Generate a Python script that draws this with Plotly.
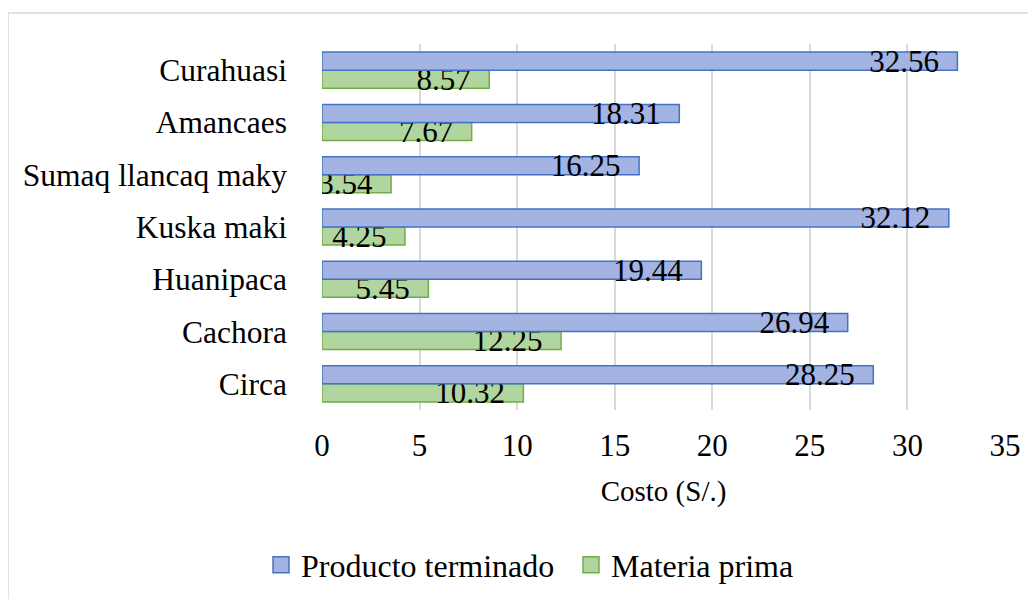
import plotly.graph_objects as go

categories = ["Circa", "Cachora", "Huanipaca", "Kuska maki",
              "Sumaq llancaq maky", "Amancaes", "Curahuasi"]
producto_terminado = [28.25, 26.94, 19.44, 32.12, 16.25, 18.31, 32.56]
materia_prima = [10.32, 12.25, 5.45, 4.25, 3.54, 7.67, 8.57]
x_ticks = [0, 5, 10, 15, 20, 25, 30, 35]

FONT = "Liberation Serif"
OFF = 8  # page body margin
W, H = 1036 - OFF, 599 - OFF
L, R, T, B = 322 - OFF, 1005 - OFF, 44 - OFF, 410 - OFF
pw, ph = R - L, B - T

def px(x):
    return (x - OFF - L) / pw

def py(y):
    return (B - (y - OFF)) / ph

BLUE_FILL, BLUE_LINE = "#a3b4e2", "#4472c4"
GREEN_FILL, GREEN_LINE = "#b1d59e", "#70ad47"

fig = go.Figure()
label_tpl = "%{x:.2f}\u00a0\u00a0"
fig.add_trace(go.Bar(
    y=categories, x=materia_prima, orientation="h", name="Materia prima",
    marker=dict(color=GREEN_FILL, line=dict(color=GREEN_LINE, width=1.5)),
    texttemplate=label_tpl, textposition="inside", insidetextanchor="end",
    constraintext="none", textfont=dict(family=FONT, size=31, color="black"),
    showlegend=False,
))
fig.add_trace(go.Bar(
    y=categories, x=producto_terminado, orientation="h", name="Producto terminado",
    marker=dict(color=BLUE_FILL, line=dict(color=BLUE_LINE, width=1.5)),
    texttemplate=label_tpl, textposition="inside", insidetextanchor="end",
    constraintext="none", textfont=dict(family=FONT, size=31, color="black"),
    showlegend=False,
))
# legend entries
for name, fill, line in [("Producto terminado", BLUE_FILL, BLUE_LINE),
                         ("Materia prima", GREEN_FILL, GREEN_LINE)]:
    fig.add_trace(go.Scatter(
        x=[None], y=[None], mode="markers", name=name,
        marker=dict(symbol="square", size=16, color=fill, line=dict(color=line, width=1.5)),
    ))

fig.update_layout(
    width=W, height=H,
    margin=dict(l=L, r=W - R, t=T, b=H - B, autoexpand=False),
    paper_bgcolor="white", plot_bgcolor="white",
    barmode="group", bargap=0.31, bargroupgap=0,
    font=dict(family=FONT, size=32, color="black"),
    showlegend=True,
    legend=dict(orientation="h", x=px(571), xanchor="center", y=py(565), yanchor="middle",
                font=dict(family=FONT, size=32, color="black"),
                itemwidth=30, entrywidth=265, tracegroupgap=0,
                bgcolor="rgba(0,0,0,0)"),
    xaxis=dict(range=[0, 35], tickvals=x_ticks, showgrid=True, gridcolor="#d9d9d9",
               gridwidth=1.5, zeroline=False, showline=False, ticks="",
               automargin=False, ticklabelstandoff=14,
               tickfont=dict(family=FONT, size=31, color="black"),
               title=dict(text="Costo (S/.)", standoff=18,
                          font=dict(family=FONT, size=29, color="black"))),
    yaxis=dict(showgrid=False, zeroline=False, showline=False, ticks="",
               automargin=False, ticklabelstandoff=34,
               tickfont=dict(family=FONT, size=31.5, color="black")),
    shapes=[dict(type="rect", xref="paper", yref="paper",
                 x0=px(8), x1=px(1045), y0=py(13), y1=py(620),
                 line=dict(color="#d9d9d9", width=1.5), fillcolor="rgba(0,0,0,0)",
                 layer="below")],
)

fig.write_html("out.html")
